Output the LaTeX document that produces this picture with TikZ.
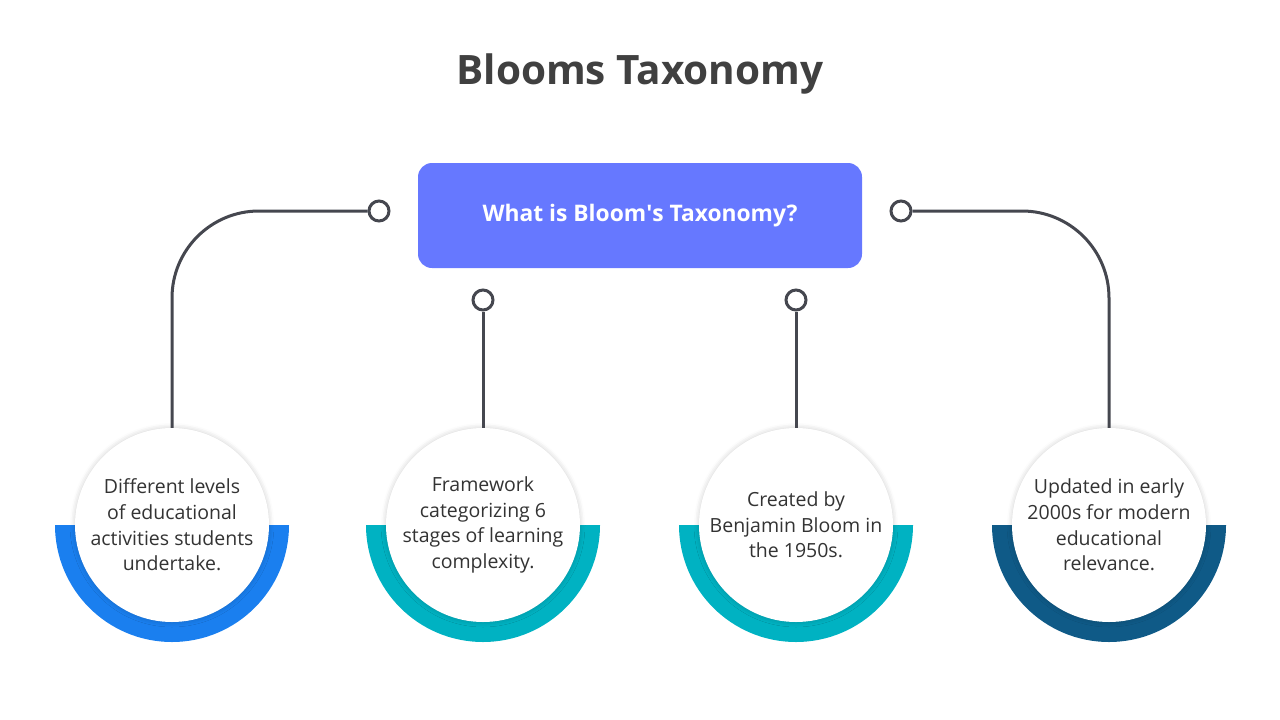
\documentclass[tikz,border=0pt]{standalone}
\usepackage{fontspec}
\setmainfont{Open Sans}
\usetikzlibrary{shadows.blur}
\definecolor{titlegray}{HTML}{404040}
\definecolor{linegray}{HTML}{45474F}
\definecolor{boxblue}{HTML}{6678FF}
\definecolor{ringblue}{HTML}{1A7FEF}
\definecolor{ringteal}{HTML}{00B2C2}
\definecolor{ringnavy}{HTML}{0F5A87}
\definecolor{textgray}{HTML}{333333}
\begin{document}
\begin{tikzpicture} [
            x=1pt, y=-1pt,
            dot/.style = {draw=linegray, line width=3pt, circle, fill=white, minimum size=20pt, inner sep=0pt},
            link/.style = {draw=linegray, line width=3pt},
            stepcircle/.style = {circle, fill=white, minimum size=194pt, inner sep=0pt,
                align=center, text=textgray,
                font=\fontsize{19.5}{25.7}\selectfont,
                blur shadow={shadow xshift=0pt, shadow yshift=0pt, shadow blur radius=5pt, shadow opacity=20}},
        ]
            \useasboundingbox (0,0) rectangle (1280,720);

            \node[font=\fontsize{40.5}{46}\selectfont\bfseries, text=titlegray] (title) at (640,74) {Blooms Taxonomy};

            \node[fill=boxblue, rounded corners=14pt, minimum width=444pt, minimum height=105pt,
                text=white, font=\fontsize{22.8}{26}\selectfont\bfseries] (what) at (640,215.5) {\raisebox{-2pt}{What is Bloom\textquotesingle s Taxonomy?}};

            % half rings
            \fill[ringblue] (55,525) arc[start angle=180, end angle=0, radius=117];
            \fill[ringteal] (366,525) arc[start angle=180, end angle=0, radius=117];
            \fill[ringteal] (679,525) arc[start angle=180, end angle=0, radius=117];
            \fill[ringnavy] (992,525) arc[start angle=180, end angle=0, radius=117];

            \node[stepcircle] (A) at (172,525) {Different levels\\of educational\\activities students\\undertake.};
            \node[stepcircle] (B) at (483,525) {Framework\\categorizing 6\\stages of learning\\complexity.};
            \node[stepcircle] (C) at (796,525) {Created by\\Benjamin Bloom in\\the 1950s.};
            \node[stepcircle] (D) at (1109,525) {Updated in early\\2000s for modern\\educational\\relevance.};

            \node[dot] (dA) at (379,211) {};
            \node[dot] (dB) at (483,300) {};
            \node[dot] (dC) at (796,300) {};
            \node[dot] (dD) at (901,211) {};

            \draw[link, rounded corners=87pt] (dA.west) -| (A.north);
            \draw[link] (dB.south) -- (B.north);
            \draw[link] (dC.south) -- (C.north);
            \draw[link, rounded corners=87pt] (dD.east) -| (D.north);
        \end{tikzpicture}
\end{document}
